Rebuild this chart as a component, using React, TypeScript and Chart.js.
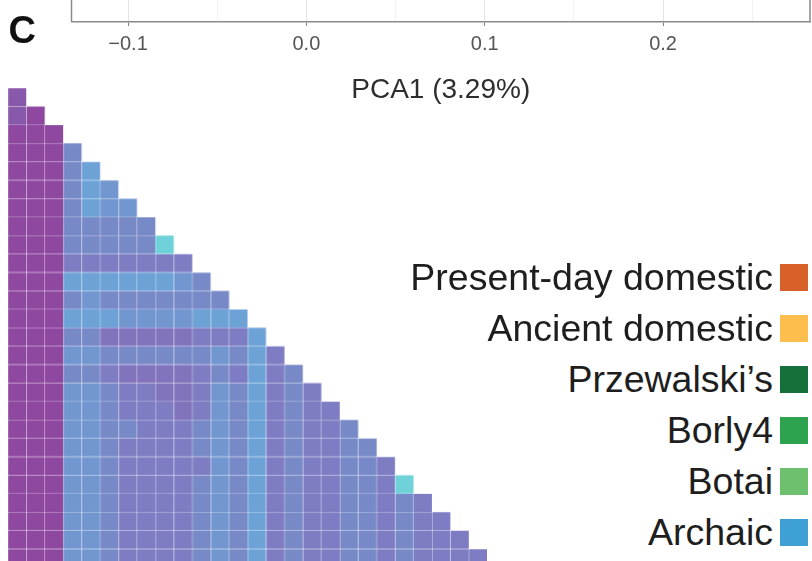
import React, { useEffect, useRef } from "react";
import { Chart, registerables } from "chart.js";

Chart.register(...registerables);

// ---- data ----
// Each row of the lower-triangular matrix; each digit is a similarity level (0 = low, 9 = high)
const heatRows: string[] = [
  "1",
  "10",
  "000",
  "0005",
  "00057",
  "000576",
  "0005766",
  "00055555",
  "000555559",
  "0004444444",
  "00077777765",
  "000565555555",
  "0007776666777",
  "00055333334447",
  "000665555556574",
  "0005543333454745",
  "00066544334657454",
  "000665444346574544",
  "0006655444565745445",
  "00066544445657454455",
  "000665444446574544554",
  "0006654444565745445549",
  "00066544445657454455454",
  "000665444456574544554544",
  "0006654444565745445545444",
  "00066544445657454455454444",
];

const axisMajorTicks: number[] = [-0.1, 0, 0.1, 0.2];
const axisMinorTicks: number[] = [-0.05, 0.05, 0.15, 0.25];
const axisMin = -0.1317;
const axisMax = 0.2824;
const axisTitle = "PCA1 (3.29%)";
const panelLabel = "C";

const legendLabels: string[] = [
  "Present-day domestic",
  "Ancient domestic",
  "Przewalski\u2019s",
  "Borly4",
  "Botai",
  "Archaic",
];
const legendColors: string[] = ["#D8612A", "#FDBE4E", "#16703A", "#2DA34F", "#6CC06E", "#3FA0D6"];

// ---- styles ----
const palette: string[] = [
  "#8E48A0",
  "#8858AB",
  "#8466B5",
  "#8273BD",
  "#7E7DC3",
  "#7889C8",
  "#7296D0",
  "#6DA2D7",
  "#6CBAD8",
  "#6ED2D8",
];
const FONT = "'Liberation Sans', Arial, Helvetica, sans-serif";

const isMajor = (v: number) => axisMajorTicks.some((t) => Math.abs(t - v) < 1e-9);
const fmt = (v: number) => {
  if (Math.abs(v) < 1e-9) return "0.0";
  return v < 0 ? "\u2212" + Math.abs(v).toFixed(1) : v.toFixed(1);
};

function Heatmap() {
  const ref = useRef<HTMLCanvasElement>(null);
  useEffect(() => {
    const n = heatRows.length;
    const labels = Array.from({ length: n }, (_, i) => String(i));
    const datasets = heatRows.map((row, r) => ({
      label: "row " + r,
      data: labels.map((_, c) => (c < row.length ? [r, r + 1] : null)),
      backgroundColor: labels.map((_, c) => (c < row.length ? palette[Number(row[c])] : "rgba(0,0,0,0)")),
      borderColor: "rgba(255,255,255,0.2)",
      borderWidth: 0.5,
      borderSkipped: false,
      grouped: false,
      barPercentage: 1,
      categoryPercentage: 1,
    }));
    const chart = new Chart(ref.current as HTMLCanvasElement, {
      type: "bar",
      data: { labels, datasets: datasets as any },
      options: {
        animation: false,
        responsive: true,
        maintainAspectRatio: false,
        events: [],
        layout: { padding: 0 },
        plugins: { legend: { display: false }, tooltip: { enabled: false } },
        scales: {
          x: { display: false },
          y: { display: false, min: 0, max: n, reverse: true },
        },
      } as any,
    });
    return () => chart.destroy();
  }, []);
  return (
    <div style={{ position: "absolute", left: 8.3, top: 88.3, width: 18.4 * heatRows.length, height: 18.4 * heatRows.length }}>
      <canvas ref={ref} />
    </div>
  );
}

const panelBorder = {
  id: "panelBorder",
  afterDraw(chart: any) {
    const { ctx, chartArea } = chart;
    ctx.save();
    ctx.strokeStyle = "#8a8a8a";
    ctx.lineWidth = 1.5;
    ctx.beginPath();
    ctx.moveTo(chartArea.left, chartArea.top);
    ctx.lineTo(chartArea.left, chartArea.bottom);
    ctx.moveTo(chartArea.right, chartArea.top);
    ctx.lineTo(chartArea.right, chartArea.bottom);
    ctx.stroke();
    ctx.restore();
  },
};

function TopAxis() {
  const ref = useRef<HTMLCanvasElement>(null);
  useEffect(() => {
    const allTicks = [...axisMajorTicks, ...axisMinorTicks].sort((a, b) => a - b);
    const chart = new Chart(ref.current as HTMLCanvasElement, {
      type: "scatter",
      data: { datasets: [{ data: [] }] },
      options: {
        animation: false,
        responsive: true,
        maintainAspectRatio: false,
        events: [],
        layout: { padding: { left: 71.5, right: 2, top: 0, bottom: 0.7 } },
        plugins: { legend: { display: false }, tooltip: { enabled: false } },
        scales: {
          x: {
            type: "linear",
            position: "bottom",
            min: axisMin,
            max: axisMax,
            afterBuildTicks: (s: any) => {
              s.ticks = allTicks.map((v) => ({ value: v }));
            },
            ticks: {
              autoSkip: false,
              maxRotation: 0,
              padding: 6,
              color: "#555",
              font: { family: FONT, size: 20, lineHeight: 1.2 },
              callback: (v: any) => (isMajor(Number(v)) ? fmt(Number(v)) : ""),
            },
            grid: {
              color: (c: any) => (c.tick && isMajor(c.tick.value) ? "#e4e4e4" : "#f2f2f2"),
              tickColor: (c: any) => (c.tick && isMajor(c.tick.value) ? "#808080" : "rgba(0,0,0,0)"),
              tickLength: 4,
              lineWidth: 1,
            },
            border: { display: true, color: "#8a8a8a", width: 1.5 },
            title: {
              display: true,
              text: axisTitle,
              color: "#2e2e2e",
              font: { family: FONT, size: 28, lineHeight: 1.2 },
              padding: { top: 11.7, bottom: 0 },
            },
          },
          y: { display: false, min: 0, max: 1 },
        },
      } as any,
      plugins: [panelBorder],
    });
    return () => chart.destroy();
  }, []);
  return (
    <div style={{ position: "absolute", left: 0, top: -97, width: 812, height: 205 }}>
      <canvas ref={ref} />
    </div>
  );
}

export default function App() {
  const swatchTop = (i: number) => 264 + 51 * i;
  return (
    <div
      style={{
        position: "fixed",
        left: 0,
        top: 0,
        width: 812,
        height: 561,
        overflow: "hidden",
        background: "#fff",
        fontFamily: FONT,
      }}
    >
      <TopAxis />
      <Heatmap />
      <div
        style={{
          position: "absolute",
          left: 8.5,
          top: 10.5,
          fontSize: 38,
          lineHeight: "38px",
          fontWeight: "bold",
          color: "#111",
        }}
      >
        {panelLabel}
      </div>
      {legendLabels.map((lab, i) => (
        <React.Fragment key={lab}>
          <div
            style={{
              position: "absolute",
              right: 812 - 773,
              top: swatchTop(i) - 4.9,
              fontSize: 37.5,
              lineHeight: "37.5px",
              whiteSpace: "nowrap",
              color: "#1e1e1e",
            }}
          >
            {lab}
          </div>
          <div
            style={{
              position: "absolute",
              left: 780,
              top: swatchTop(i),
              width: 28,
              height: 27,
              background: legendColors[i],
            }}
          />
        </React.Fragment>
      ))}
    </div>
  );
}
